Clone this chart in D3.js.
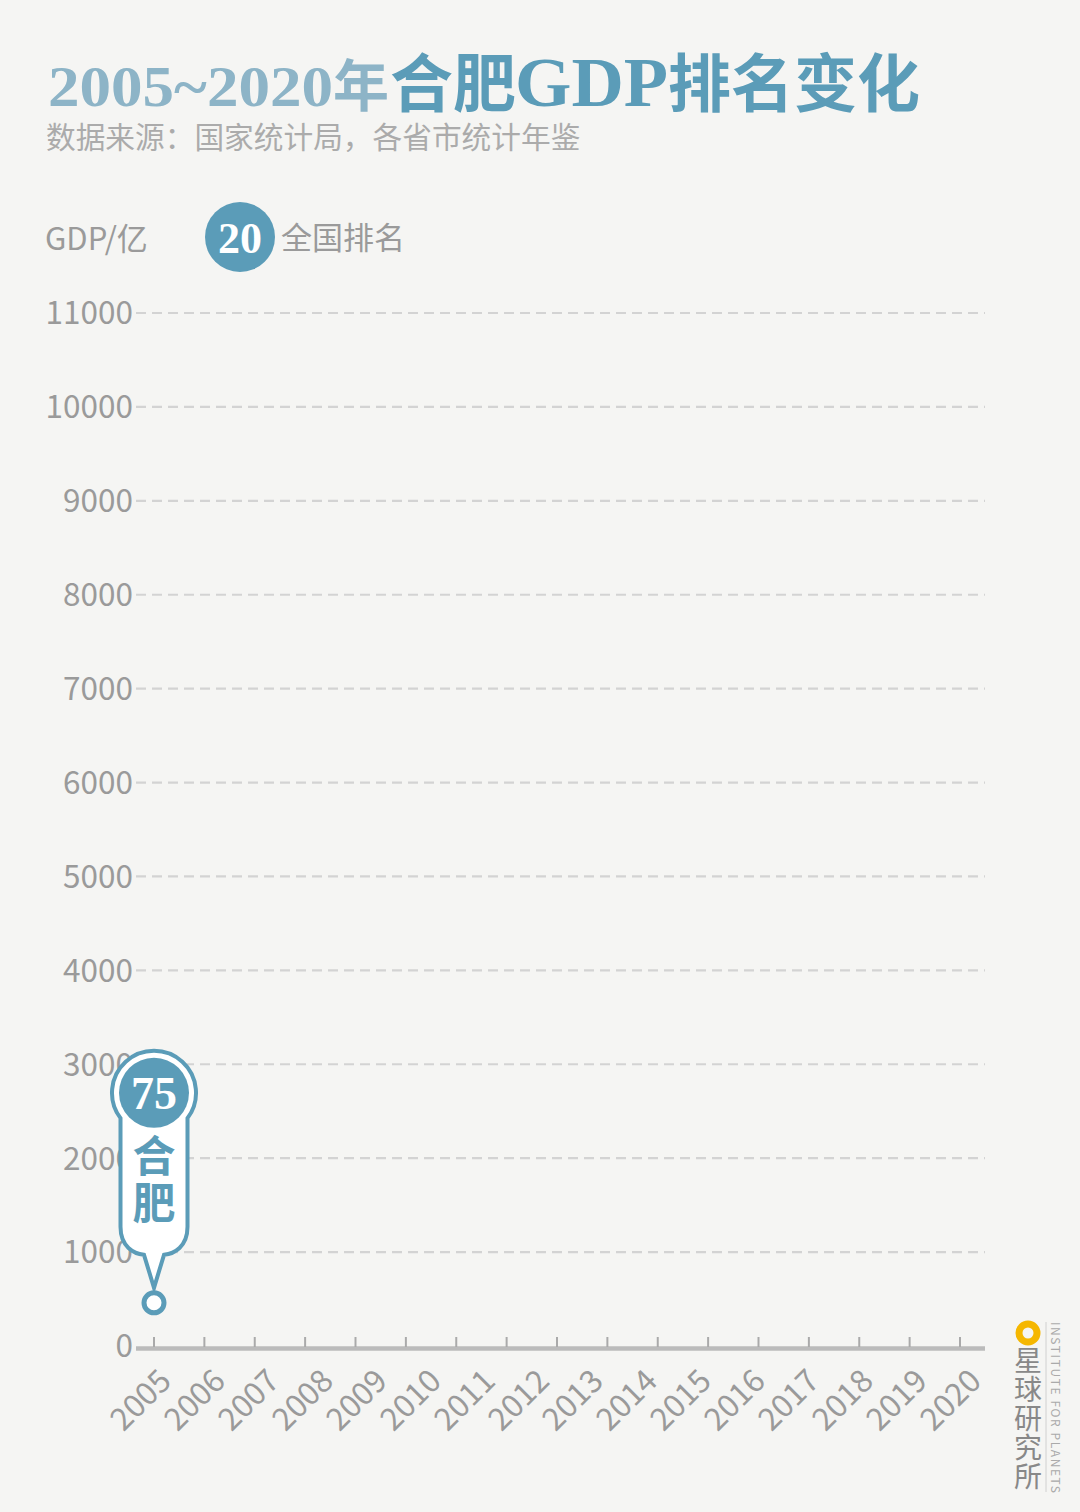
<!DOCTYPE html>
<html><head><meta charset="utf-8">
<script src="https://cdn.jsdelivr.net/npm/d3@7"></script>
<style>
html,body{margin:0;padding:0;background:#f5f5f3;}
svg{display:block;}
</style></head>
<body>
<svg id="c" width="1080" height="1512"></svg>
<script>
// ---- data ----
const years = [2005,2006,2007,2008,2009,2010,2011,2012,2013,2014,2015,2016,2017,2018,2019,2020];
const gdpTicks = [0,1000,2000,3000,4000,5000,6000,7000,8000,9000,10000,11000];
const cityNames = ["合肥"];
const cityYears = [2005];
const cityGdp = [460];
const cityRank = [75];
const legendRank = 20;
const tickMarkCount = 17;

const DARK = "#5b9cb8", LIGHT = "#8db4c7", GREY = "#9a9a9a";
const svg = d3.select("#c");
svg.append("rect").attr("width",1080).attr("height",1512).attr("fill","#f5f5f3");

const SANS = "'Noto Sans CJK SC','Noto Sans',sans-serif";
const SERIF = "'Liberation Serif','DejaVu Serif',serif";

// ---- title (one text, several tspans) ----
const title = svg.append("text").attr("y",106).attr("font-weight","bold");
title.append("tspan").attr("x",48).attr("font-family",SERIF).attr("font-size",58).attr("fill",LIGHT)
  .attr("textLength",285).attr("lengthAdjust","spacingAndGlyphs").text("2005~2020");
title.append("tspan").attr("x",333).attr("font-family",SANS).attr("font-size",56).attr("fill",LIGHT).text("年");
title.append("tspan").attr("x",390).attr("font-family",SANS).attr("font-size",63).attr("fill",DARK).text("合肥");
title.append("tspan").attr("x",515).attr("font-family",SERIF).attr("font-size",70).attr("fill",DARK)
  .attr("textLength",153).attr("lengthAdjust","spacingAndGlyphs").text("GDP");
title.append("tspan").attr("x",668).attr("font-family",SANS).attr("font-size",63).attr("fill",DARK).text("排名变化");
svg.append("text").attr("x",46).attr("y",148).attr("font-family",SANS)
  .attr("font-size",29.7).attr("fill","#ababab").text("数据来源：国家统计局，各省市统计年鉴");

// ---- legend ----
svg.append("text").attr("x",45).attr("y",250).attr("font-family",SANS).attr("font-size",31).attr("fill",GREY).text("GDP/亿");
svg.append("circle").attr("cx",240).attr("cy",237).attr("r",35).attr("fill",DARK);
svg.append("text").attr("x",240).attr("y",237).attr("dy","0.36em").attr("text-anchor","middle")
  .attr("font-family",SERIF).attr("font-weight","bold").attr("font-size",44).attr("fill","#fff").text(legendRank);
svg.append("text").attr("x",281).attr("y",249).attr("font-family",SANS).attr("font-size",31).attr("fill",GREY).text("全国排名");

// ---- scales ----
const y = d3.scaleLinear().domain([0,11000]).range([1346,313]);
const x = d3.scaleLinear().domain([2005,2020]).range([154,964]);

// grid + y labels
const gy = svg.append("g");
gy.selectAll("line.grid").data(gdpTicks.filter(d=>d>0)).join("line")
  .attr("x1",136).attr("x2",985).attr("y1",d=>y(d)).attr("y2",d=>y(d))
  .attr("stroke","#d3d3d3").attr("stroke-width",2.2).attr("stroke-dasharray","10,6");
gy.selectAll("text").data(gdpTicks).join("text")
  .attr("x",133).attr("y",d=>y(d)).attr("dy","0.36em").attr("text-anchor","end")
  .attr("font-family",SANS).attr("font-size",31.5).attr("fill",GREY).text(d=>d);

// x axis line + ticks
const tickPos = d3.scaleLinear().domain([0,tickMarkCount-1]).range([154,960]);
svg.append("line").attr("x1",136).attr("x2",985).attr("y1",1348.5).attr("y2",1348.5)
  .attr("stroke","#bbbbbb").attr("stroke-width",4.5);
svg.selectAll("line.tk").data(d3.range(tickMarkCount)).join("line").attr("class","tk")
  .attr("x1",d=>tickPos(d)).attr("x2",d=>tickPos(d)).attr("y1",1337).attr("y2",1347)
  .attr("stroke","#aaaaaa").attr("stroke-width",2);
svg.selectAll("text.yr").data(years).join("text").attr("class","yr")
  .attr("transform",d=>`translate(${x(d)+19},1383) rotate(-45)`)
  .attr("text-anchor","end").attr("font-family",SANS).attr("font-size",31.5).attr("fill",GREY).text(d=>d);

// ---- city marker ----
cityNames.forEach((name,i)=>{
  const px = x(cityYears[i]), py = y(cityGdp[i]);
  const g = svg.append("g");
  const tipY = py-15, cy = py-210, R = 42, hw = 33.5;
  const dy = Math.sqrt(R*R-hw*hw);
  const sideBottom = py-76, baseY = py-48;
  const p = d3.path();
  p.moveTo(px-hw, cy+dy);
  const a0 = Math.PI - Math.asin(dy/R), a1 = Math.asin(dy/R);
  p.arc(px, cy, R, a0, a1 + 2*Math.PI, false);
  p.lineTo(px+hw, sideBottom);
  p.bezierCurveTo(px+hw, baseY-8, px+20, baseY-1, px+10, baseY);
  p.lineTo(px, tipY);
  p.lineTo(px-10, baseY);
  p.bezierCurveTo(px-20, baseY-1, px-hw, baseY-8, px-hw, sideBottom);
  p.closePath();
  g.append("path").attr("d",p.toString()).attr("fill","#fff").attr("stroke",DARK).attr("stroke-width",4);
  g.append("circle").attr("cx",px).attr("cy",cy).attr("r",35).attr("fill",DARK);
  g.append("text").attr("x",px).attr("y",cy).attr("dy","0.35em").attr("text-anchor","middle")
    .attr("font-family",SERIF).attr("font-weight","bold").attr("font-size",46).attr("fill","#fff").text(cityRank[i]);
  g.append("text").attr("x",px).attr("y",cy+41).attr("writing-mode","vertical-rl")
    .attr("font-family",SANS).attr("font-weight","bold").attr("font-size",43).attr("letter-spacing",4)
    .attr("fill",DARK).text(name);
  g.append("circle").attr("cx",px).attr("cy",py).attr("r",10).attr("fill","#fff").attr("stroke",DARK).attr("stroke-width",5);
});

// ---- logo ----
svg.append("circle").attr("cx",1028).attr("cy",1333).attr("r",9).attr("fill","none").attr("stroke","#f5b700").attr("stroke-width",7);
svg.append("text").attr("x",1028).attr("y",1346).attr("writing-mode","vertical-rl")
  .attr("font-family",SANS).attr("font-size",28).attr("letter-spacing",1).attr("fill","#888").text("星球研究所");
svg.append("line").attr("x1",1046).attr("x2",1046).attr("y1",1322).attr("y2",1492).attr("stroke","#d0d0d0").attr("stroke-width",1);
svg.append("text").attr("transform","translate(1051,1322) rotate(90)").attr("font-family",SANS)
  .attr("font-size",12).attr("fill","#aaa").attr("textLength",171).attr("lengthAdjust","spacing").text("INSTITUTE FOR PLANETS");
</script>
</body></html>
